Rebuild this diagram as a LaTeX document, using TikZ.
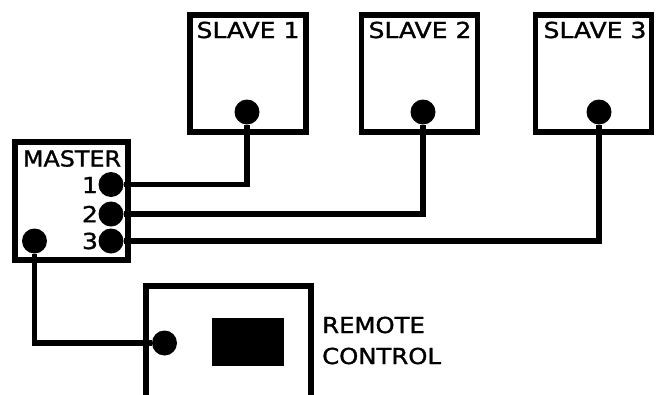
\documentclass[tikz,border=0pt]{standalone}
\usepackage{fontspec}
\setmainfont{DejaVu Sans}
\newfontfamily\lblfont[FakeBold=1.2]{DejaVu Sans}
\begin{document}
\begin{tikzpicture}[x=1pt,y=-1pt,
  box/.style={draw,line width=5.5pt,inner sep=0pt},
  dot/.style={circle,fill,inner sep=0pt,minimum size=25pt},
  wire/.style={line width=5.5pt},
  lbl/.style={font=\lblfont\fontsize{22}{24}\selectfont,inner sep=0pt,xscale=1.14}]
\clip (0,0) rectangle (656,394);
\fill[white] (0,0) rectangle (656,394);
% slaves
\node[box,minimum width=116pt,minimum height=117pt] (s1) at (248,73.5) {};
\node[box,minimum width=116pt,minimum height=117pt] (s2) at (419.5,73.5) {};
\node[box,minimum width=116pt,minimum height=117pt] (s3) at (593.5,73.5) {};
\node[lbl] (s1t) at (248,30) {SLAVE 1};
\node[lbl] (s2t) at (420,30) {SLAVE 2};
\node[lbl] (s3t) at (595,30) {SLAVE 3};
\node[dot] (d1) at (247,112) {};
\node[dot] (d2) at (423,112) {};
\node[dot] (d3) at (599,112) {};
% master
\node[box,minimum width=113pt,minimum height=118pt] (m) at (71.5,201) {};
\node[lbl,xscale=0.95] (mt) at (72,158.5) {MASTER};
\node[lbl] (n1) at (90,185) {1};
\node[lbl] (n2) at (90,214) {2};
\node[lbl] (n3) at (90,241) {3};
\node[dot] (m1) at (111,184.5) {};
\node[dot] (m2) at (111,214) {};
\node[dot] (m3) at (111,241) {};
\node[dot] (mL) at (34.5,241) {};
% remote
\node[box,minimum width=165pt,minimum height=140pt] (r) at (228.5,356) {};
\node[dot] (rd) at (164.5,343) {};
\node[fill,minimum width=72pt,minimum height=48pt,inner sep=0pt] (scr) at (248,342) {};
\node[lbl,anchor=west,align=left,xscale=0.97,font=\lblfont\fontsize{22}{31}\selectfont] (rt) at (322,340.5) {REMOTE\\CONTROL};
% wires
\draw[wire] (m1) -| (d1);
\draw[wire] (m2) -| (d2);
\draw[wire] (m3) -| (d3);
\draw[wire] (mL) |- (rd);
\end{tikzpicture}
\end{document}
